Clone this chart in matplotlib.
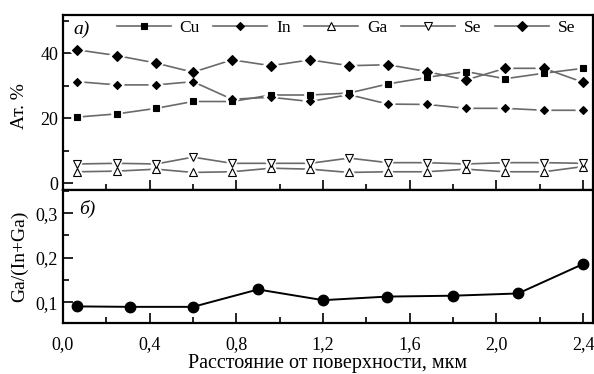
import matplotlib
matplotlib.use("Agg")
import matplotlib.pyplot as plt
from matplotlib.ticker import MultipleLocator, FixedLocator

plt.rcParams['font.family'] = ['Liberation Serif', 'DejaVu Serif']

# depth points, mkm
x_top = [0.065, 0.25, 0.43, 0.6, 0.78, 0.96, 1.14, 1.32, 1.5, 1.68, 1.86, 2.04, 2.22, 2.4]
cu = [20.4, 21.4, 23.1, 25.2, 25.2, 27.2, 27.2, 27.8, 30.6, 32.6, 34.4, 32.2, 33.9, 35.4]
in_ = [31.3, 30.3, 30.3, 31.3, 25.9, 26.5, 25.2, 27.3, 24.4, 24.3, 23.1, 23.1, 22.5, 22.5]
ga = [3.6, 3.8, 4.4, 3.4, 3.6, 4.7, 4.4, 3.4, 3.6, 3.6, 4.4, 3.6, 3.6, 5.2]
se1 = [6.0, 6.2, 6.0, 8.1, 6.2, 6.2, 6.2, 7.8, 6.4, 6.4, 6.0, 6.4, 6.4, 6.2]
se2 = [41.1, 39.3, 37.0, 34.2, 38.0, 36.2, 38.0, 36.2, 36.5, 34.4, 31.8, 35.4, 35.4, 31.1]

x_bot = [0.065, 0.31, 0.6, 0.9, 1.2, 1.495, 1.8, 2.1, 2.4]
ratio = [0.091, 0.09, 0.09, 0.129, 0.105, 0.113, 0.115, 0.12, 0.186]

fig = plt.figure(figsize=(5.94, 3.74), dpi=100)
ax1 = fig.add_axes([0.106, 0.492, 0.892, 0.468])
ax2 = fig.add_axes([0.106, 0.136, 0.892, 0.356])

gray = '#6a6a6a'
series = [
    (cu, 's', 5, 'black', 'Cu'),
    (in_, 'D', 4, 'black', 'In'),
    (ga, '^', 5.5, 'white', 'Ga'),
    (se1, 'v', 5.5, 'white', 'Se'),
    (se2, 'D', 5.5, 'black', 'Se'),
]
handles = []
for y, m, ms, fc, lab in series:
    ax1.plot(x_top, y, color=gray, lw=1.2, zorder=2)
    # white halo under markers (gap between line and symbol)
    ax1.plot(x_top, y, ls='none', marker=m, ms=ms, mfc='white', mec='white',
             mew=4, zorder=3)
    ax1.plot(x_top, y, ls='none', marker=m, ms=ms, mfc=fc, mec='black',
             mew=0.8, zorder=4)
    handles.append(plt.Line2D([], [], color=gray, lw=1.2, marker=m, ms=ms,
                              mfc=fc, mec='black', mew=0.8))

ax1.legend(handles, [s[4] for s in series], ncol=5, frameon=False,
           loc='upper left', bbox_to_anchor=(0.072, 1.06), handlelength=3.1,
           columnspacing=0.8, handletextpad=0.5, fontsize=12.5)
ax1.text(0.02, 0.92, 'а)', transform=ax1.transAxes, style='italic',
         fontsize=14, va='center')

ax1.set_xlim(0, 2.445)
ax1.set_ylim(-2, 51.8)
ax1.yaxis.set_major_locator(MultipleLocator(20))
ax1.yaxis.set_minor_locator(MultipleLocator(10))
ax1.xaxis.set_major_locator(MultipleLocator(0.4))
ax1.xaxis.set_minor_locator(MultipleLocator(0.2))
ax1.set_xticklabels([])
ax1.set_ylabel('Ат. %', fontsize=14)
ax1.yaxis.set_label_coords(-0.066, 0.48)

ax2.plot(x_bot, ratio, color='black', lw=1.4, marker='o', ms=7.5, zorder=4)
ax2.set_xlim(0, 2.445)
ax2.set_ylim(0.0535, 0.352)
ax2.yaxis.set_major_locator(FixedLocator([0.1, 0.2, 0.3]))
ax2.yaxis.set_minor_locator(FixedLocator([0.15, 0.25, 0.35]))
ax2.xaxis.set_major_locator(MultipleLocator(0.4))
ax2.xaxis.set_minor_locator(MultipleLocator(0.2))
ax2.xaxis.set_major_formatter(plt.FuncFormatter(lambda v, p: f'{v:.1f}'.replace('.', ',')))
ax2.yaxis.set_major_formatter(plt.FuncFormatter(lambda v, p: f'{v:.1f}'.replace('.', ',')))
ax2.set_ylabel('Ga/(In+Ga)', fontsize=14)
ax2.yaxis.set_label_coords(-0.066, 0.5)
ax2.set_xlabel('Расстояние от поверхности, мкм', fontsize=14.5, labelpad=1)
ax2.text(0.03, 0.86, 'б)', transform=ax2.transAxes, style='italic',
         fontsize=14, va='center')

for ax in (ax1, ax2):
    for s in ax.spines.values():
        s.set_linewidth(1.6)
    ax.tick_params(which='both', direction='in', width=1.2, labelsize=13,
                   top=False, right=False)
    ax.tick_params(which='major', length=7)
    ax.tick_params(which='minor', length=4)
ax2.tick_params(axis='x', which='both', pad=9)

fig.savefig('out.png', dpi=100)
